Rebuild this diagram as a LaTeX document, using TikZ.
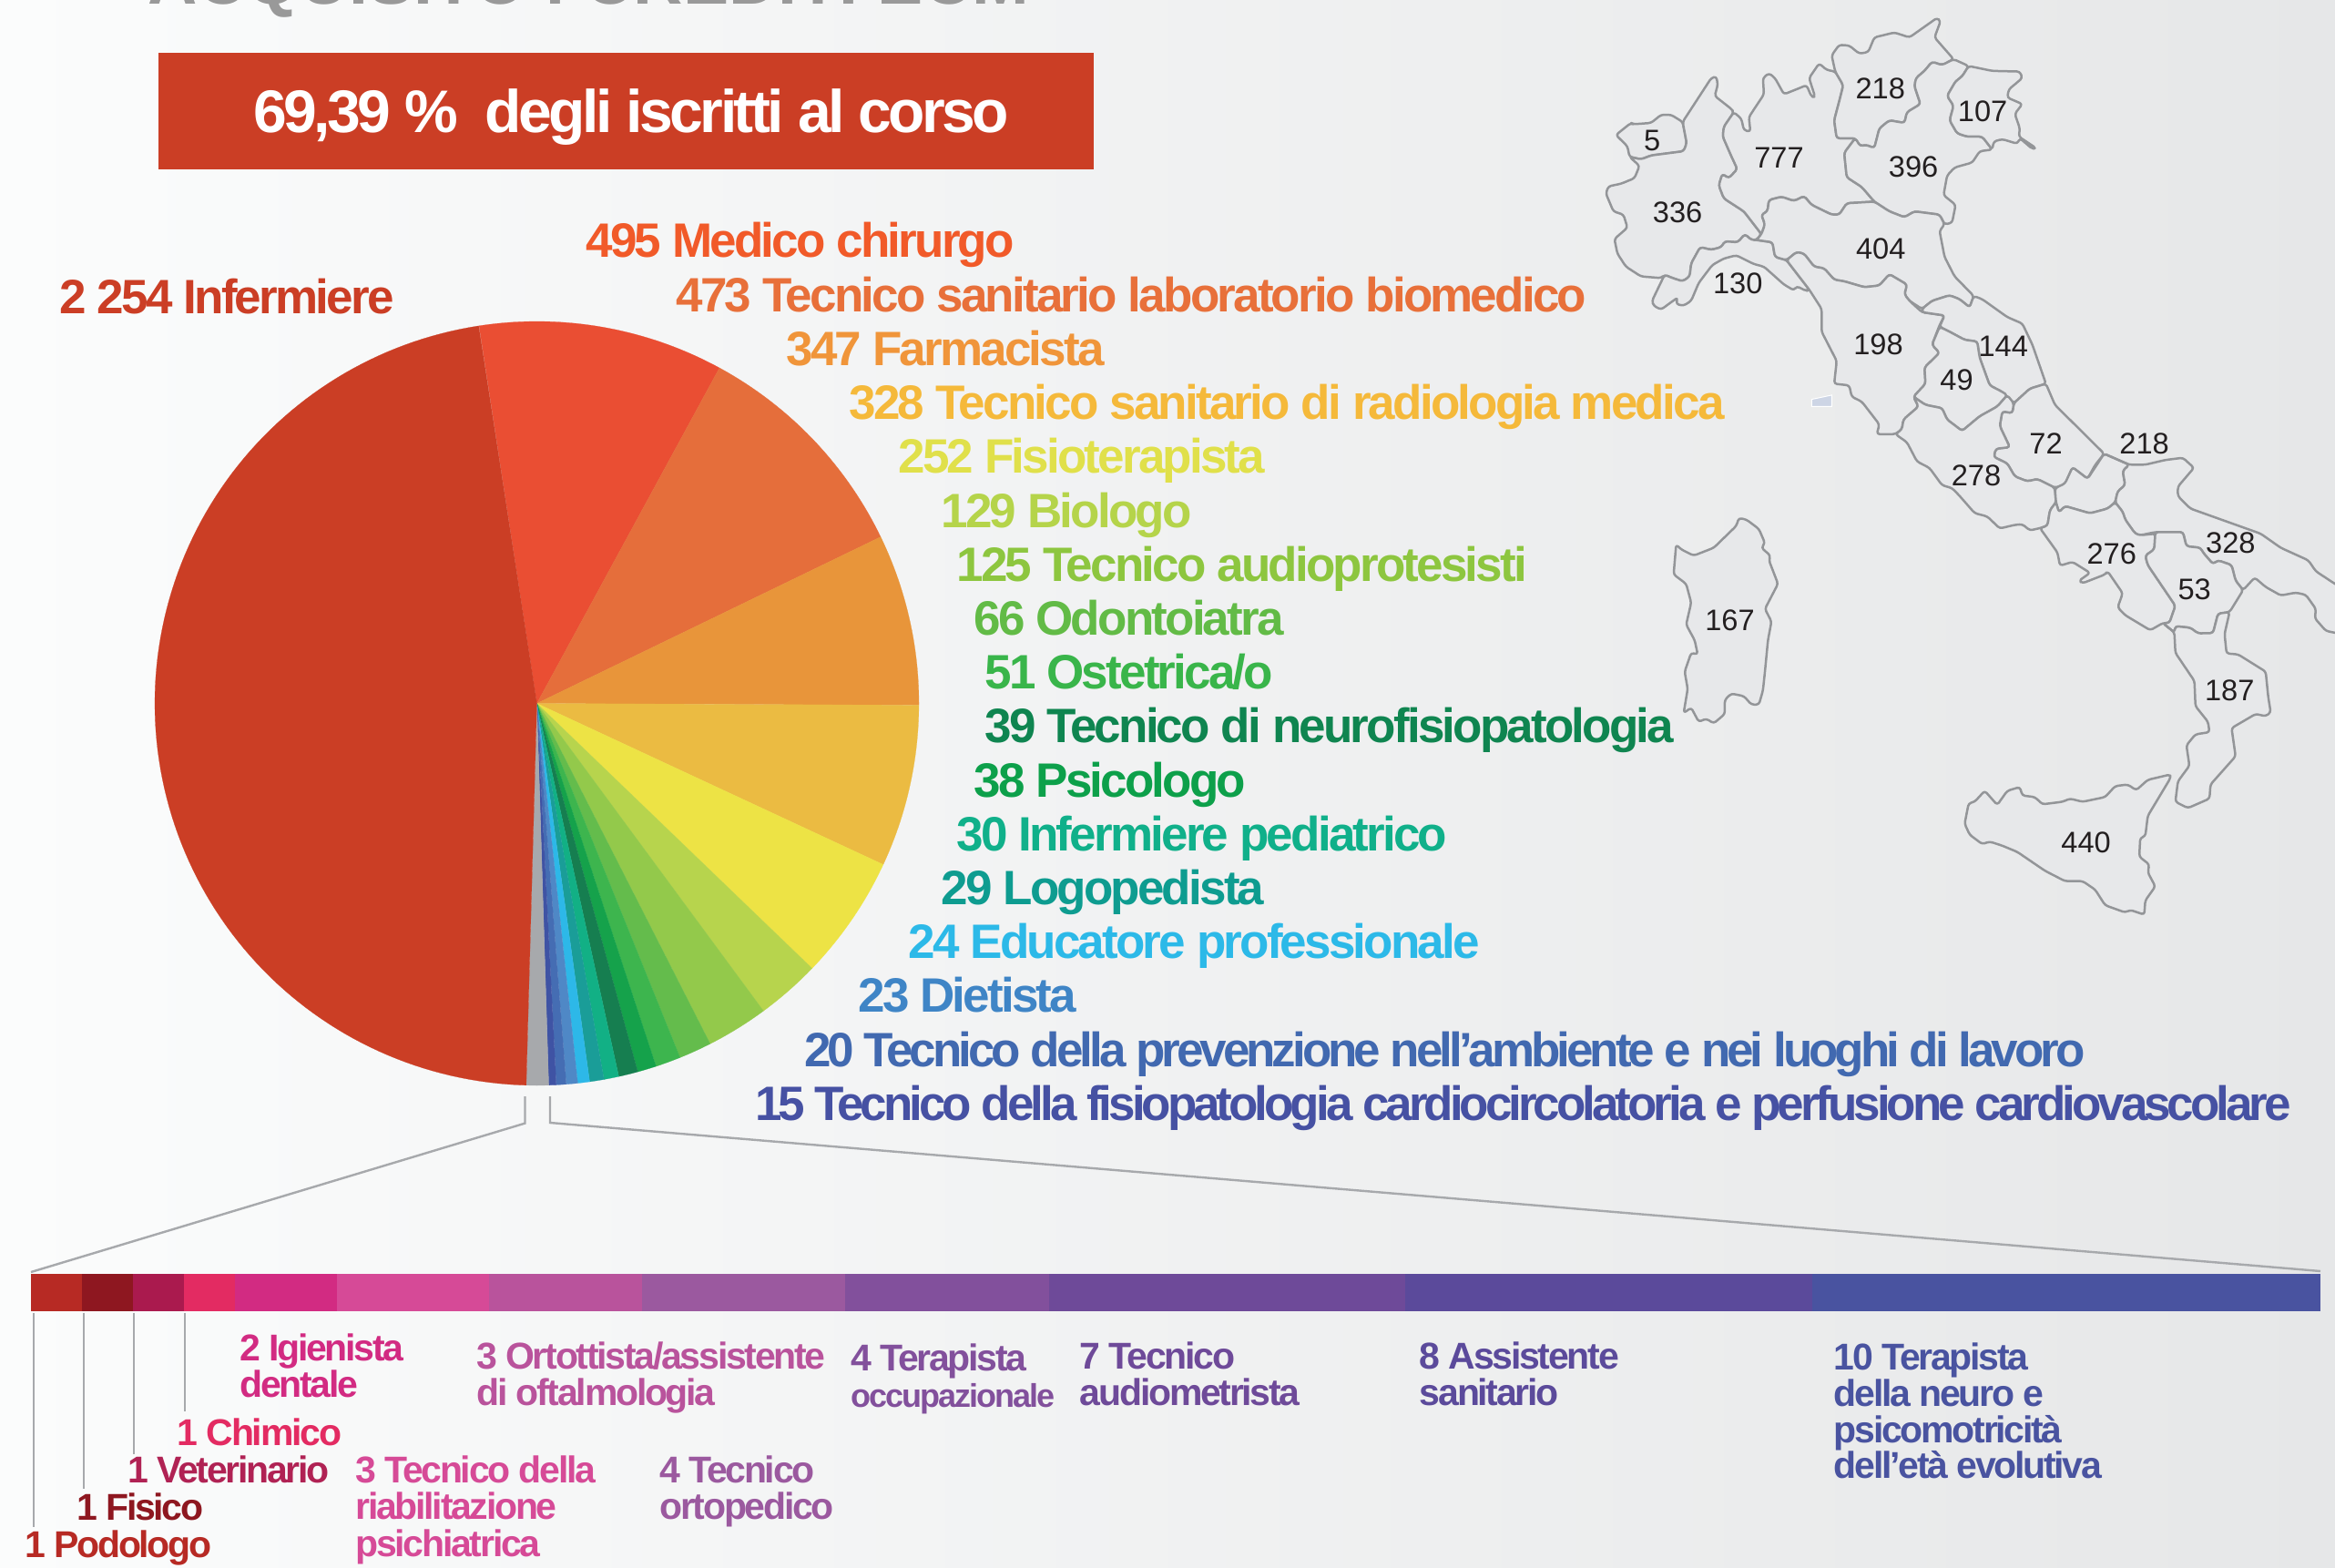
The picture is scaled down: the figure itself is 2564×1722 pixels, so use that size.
\documentclass[tikz,border=0pt]{standalone}
\usepackage{fontspec}
\setmainfont{Liberation Sans}
\newfontfamily\hb[LetterSpace=-5.3]{Liberation Sans Bold}
\newfontfamily\hbt[LetterSpace=-7.6]{Liberation Sans Bold}
\newfontfamily\hbs[LetterSpace=-5.5]{Liberation Sans Bold}
\definecolor{cA}{HTML}{CB3E25}
\definecolor{mapfill}{HTML}{E7E8EA}
\definecolor{mapline}{HTML}{939598}
\definecolor{leader}{HTML}{A7A9AC}
\definecolor{ink}{HTML}{231F20}
\tikzset{
 txt/.style={inner sep=0pt,anchor=base west,align=left},
 big/.style={txt,font=\hb\fontsize{26.5}{26.5}\selectfont},
 bigtight/.style={txt,font=\hbt\fontsize{26.5}{26.5}\selectfont},
 small/.style={txt,font=\hbs\fontsize{20.5}{20.5}\selectfont},
 num/.style={inner sep=0pt,text=ink,font=\fontsize{16.3}{16.3}\selectfont},
 region/.style={fill=mapfill,draw=mapline,line width=1.25pt,line join=round,rounded corners=1.5pt},
 leaderline/.style={draw=leader,line width=0.7pt},
 zoomline/.style={draw=leader,line width=1.2pt},
}
\begin{document}
\begin{tikzpicture}[x=0.5pt,y=-0.5pt]
\useasboundingbox (0,0) rectangle (2564,1722);
\clip (0,0) rectangle (2564,1722);
\shade[left color={rgb,255:red,251;green,252;blue,252}, right color={rgb,255:red,230;green,231;blue,232}] (0,0) rectangle (2564,1722);

% cropped title
\node[txt,text={rgb,255:red,153;green,153;blue,153},font=\fontspec{Liberation Sans Bold}\fontsize{37.6}{37.6}\selectfont] (title) at (162,5) {ACQUISITO I CREDITI ECM};

% banner
\fill[cA] (174,58) rectangle (1201,186);
\node[txt,text=white,font=\hb\fontsize{33}{33}\selectfont] (banner) at (278,146) {69,39 \%\ \ degli iscritti al corso};

% pie
\def\acc{-8.7}
\newcommand\Slice[2]{%
  \definecolor{tmpc}{HTML}{#2}%
  \pgfmathsetmacro\aend{\acc+#1/4783*360}%
  \fill[tmpc,draw=tmpc,line width=0.1pt] (589.5,772.5) -- plot[domain=\acc:\aend,samples=120] ({589.5+419.5*sin(\x)},{772.5-419.5*cos(\x)}) -- cycle;
  \global\let\acc\aend
}
\Slice{495}{EA4E33}
\Slice{473}{E56E3B}
\Slice{347}{E8953A}
\Slice{328}{EBBB42}
\Slice{252}{EDE345}
\Slice{129}{B7D44D}
\Slice{125}{93C94B}
\Slice{66}{64BC4C}
\Slice{51}{3DB54E}
\Slice{38}{15A24B}
\Slice{39}{167E50}
\Slice{30}{12B085}
\Slice{29}{1A9D98}
\Slice{24}{2DB8E8}
\Slice{23}{4F88C6}
\Slice{20}{456DB3}
\Slice{15}{3F53A4}
\Slice{45}{A7A9AC}
\Slice{2254}{CB3E25}

% pie labels
\node[big,text={cA}] (l0) at (65,345) {2 254 Infermiere};
\node[big,text={rgb,255:red,241;green,90;blue,41}] (l1) at (643,283) {495 Medico chirurgo};
\node[big,text={rgb,255:red,232;green,112;blue,58}] (l2) at (742,342.2) {473 Tecnico sanitario laboratorio biomedico};
\node[big,text={rgb,255:red,240;green,149;blue,58}] (l3) at (863,401.4) {347 Farmacista};
\node[big,text={rgb,255:red,245;green,185;blue,58}] (l4) at (932,460.6) {328 Tecnico sanitario di radiologia medica};
\node[big,text={rgb,255:red,224;green,224;blue,74}] (l5) at (986,519.8) {252 Fisioterapista};
\node[big,text={rgb,255:red,181;green,212;blue,74}] (l6) at (1033,579) {129 Biologo};
\node[big,text={rgb,255:red,141;green,198;blue,63}] (l7) at (1050,638.2) {125 Tecnico audioprotesisti};
\node[big,text={rgb,255:red,98;green,187;blue,70}] (l8) at (1069,697.4) {66 Odontoiatra};
\node[big,text={rgb,255:red,57;green,181;blue,74}] (l9) at (1081,756.6) {51 Ostetrica/o};
\node[big,text={rgb,255:red,15;green,133;blue,80}] (l10) at (1081,815.8) {39 Tecnico di neurofisiopatologia};
\node[big,text={rgb,255:red,13;green,160;blue,74}] (l11) at (1069,875) {38 Psicologo};
\node[big,text={rgb,255:red,16;green,176;blue,138}] (l12) at (1050,934.2) {30 Infermiere pediatrico};
\node[big,text={rgb,255:red,14;green,156;blue,144}] (l13) at (1033,993.4) {29 Logopedista};
\node[big,text={rgb,255:red,44;green,185;blue,232}] (l14) at (997,1052.6) {24 Educatore professionale};
\node[big,text={rgb,255:red,63;green,133;blue,198}] (l15) at (942,1111.8) {23 Dietista};
\node[bigtight,text={rgb,255:red,65;green,105;blue,176}] (l16) at (883,1171) {20 Tecnico della prevenzione nell’ambiente e nei luoghi di lavoro};
\node[bigtight,text={rgb,255:red,70;green,81;blue,163}] (l17) at (829,1230.2) {15 Tecnico della fisiopatologia cardiocircolatoria e perfusione cardiovascolare};

% bar
\newcommand\Seg[3]{\definecolor{tmpc}{HTML}{#3}\fill[tmpc] (#1,1398.5) rectangle (#2,1439.6);}
\Seg{34}{90.3}{B72A24}
\Seg{90}{146.3}{8E1720}
\Seg{146}{202.3}{AA1A4E}
\Seg{202}{258.3}{E32B62}
\Seg{258}{370.3}{D22B82}
\Seg{370}{537.3}{D64A97}
\Seg{537}{705.3}{B9539C}
\Seg{705}{928.3}{9B599F}
\Seg{928}{1152.3}{82509C}
\Seg{1152}{1543.3}{6E4A99}
\Seg{1543}{1989.8}{5B4A9B}
\Seg{1989.5}{2548}{4953A0}

% zoom lines
\coordinate (zl0) at (576.5,1204);
\coordinate (zl1) at (576.5,1233.6);
\coordinate (zl2) at (34,1397);
\coordinate (zr0) at (604,1204);
\coordinate (zr1) at (604,1233);
\coordinate (zr2) at (2548,1396);
\draw[zoomline] (zl0) -- (zl1) -- (zl2);
\draw[zoomline] (zr0) -- (zr1) -- (zr2);

% leaders
\coordinate (a0) at (37,1441.7); \coordinate (a1) at (37,1677);
\coordinate (b0) at (92,1441.7); \coordinate (b1) at (92,1634.5);
\coordinate (c0) at (147,1441.7); \coordinate (c1) at (147,1596.5);
\coordinate (d0) at (203,1441.7); \coordinate (d1) at (203,1550);
\draw[leaderline] (a0)--(a1);
\draw[leaderline] (b0)--(b1);
\draw[leaderline] (c0)--(c1);
\draw[leaderline] (d0)--(d1);

% small labels
\node[small,text={rgb,255:red,183;green,42;blue,36}] (s1) at (27,1710) {1 Podologo};
\node[small,text={rgb,255:red,142;green,23;blue,32}] (s2) at (84,1669) {1 Fisico};
\node[small,text={rgb,255:red,176;green,34;blue,84}] (s3) at (140,1628) {1 Veterinario};
\node[small,text={rgb,255:red,227;green,43;blue,98}] (s4) at (194.5,1587) {1 Chimico};
\node[small,text={rgb,255:red,210;green,43;blue,130}] (s5) at (263,1494) {2 Igienista};
\node[small,text={rgb,255:red,210;green,43;blue,130}] (s5b) at (263,1534) {dentale};
\node[small,text={rgb,255:red,214;green,74;blue,151}] (s6) at (390,1628) {3 Tecnico della};
\node[small,text={rgb,255:red,214;green,74;blue,151}] (s6b) at (390,1668.4) {riabilitazione};
\node[small,text={rgb,255:red,214;green,74;blue,151}] (s6c) at (390,1709) {psichiatrica};
\node[small,text={rgb,255:red,185;green,83;blue,156}] (s7) at (523,1503) {3 Ortottista/assistente};
\node[small,text={rgb,255:red,185;green,83;blue,156}] (s7b) at (523,1543.6) {di oftalmologia};
\node[small,text={rgb,255:red,155;green,89;blue,159}] (s8) at (724,1628) {4 Tecnico};
\node[small,text={rgb,255:red,155;green,89;blue,159}] (s8b) at (724,1668) {ortopedico};
\node[small,text={rgb,255:red,130;green,80;blue,156}] (s9) at (934,1505) {4 Terapista};
\node[small,text={rgb,255:red,130;green,80;blue,156},font=\hbs\fontsize{18}{18}\selectfont] (s9b) at (934,1545) {occupazionale};
\node[small,text={rgb,255:red,110;green,74;blue,153}] (s10) at (1185.5,1503) {7 Tecnico};
\node[small,text={rgb,255:red,110;green,74;blue,153}] (s10b) at (1185.5,1543.6) {audiometrista};
\node[small,text={rgb,255:red,91;green,74;blue,155}] (s11) at (1558.5,1503) {8 Assistente};
\node[small,text={rgb,255:red,91;green,74;blue,155}] (s11b) at (1558.5,1543.6) {sanitario};
\node[small,text={rgb,255:red,73;green,83;blue,160}] (s12) at (2013.4,1504) {10 Terapista};
\node[small,text={rgb,255:red,73;green,83;blue,160}] (s12b) at (2013.4,1544) {della neuro e};
\node[small,text={rgb,255:red,73;green,83;blue,160}] (s12c) at (2013.4,1584) {psicomotricità};
\node[small,text={rgb,255:red,73;green,83;blue,160}] (s12d) at (2013.4,1623.5) {dell’età evolutiva};

% map north
\begin{scope}[shift={(1700,0)}]
\begin{scope}[x=0.27548pt,y=-0.17857pt]
\draw[region] (135,415)--(165,378)--(170,382)--(205,378)--(225,353)--(245,353)--(268,375)--(276,440)--(270,465)--(245,470)--(205,478)--(185,490)--(162,482)--(158,450)--cycle;
\draw[region] (268,375)--(325,240)--(335,235)--(338,260)--(332,295)--(365,335)--(370,345)--(350,390)--(348,420)--(365,480)--(377,520)--(360,548)--(347,535)--(340,570)--(350,610)--(390,650)--(425,720)--(415,738)--(405,738)--(392,720)--(378,745)--(352,742)--(345,760)--(325,768)--(303,760)--(285,810)--(282,850)--(268,865)--(248,855)--(232,845)--(225,855)--(185,850)--(155,820)--(138,780)--(132,735)--(158,700)--(150,660)--(130,650)--(115,595)--(120,573)--(145,565)--(172,548)--(182,510)--(162,482)--(185,490)--(205,478)--(245,470)--(270,465)--(276,440)--cycle;
\draw[region] (207,925)--(232,845)--(248,855)--(268,865)--(282,850)--(285,810)--(303,760)--(325,768)--(345,760)--(352,742)--(378,745)--(392,720)--(405,738)--(415,738)--(447,745)--(452,790)--(475,800)--(520,890)--(515,895)--(495,880)--(490,893)--(470,875)--(430,820)--(410,812)--(375,785)--(350,795)--(327,815)--(300,870)--(285,925)--(270,940)--(255,935)--(258,915)--(240,935)--(225,952)--(210,940)--cycle;
\draw[region] (370,345)--(385,365)--(390,400)--(403,405)--(400,360)--(430,290)--(428,240)--(440,225)--(452,240)--(470,290)--(515,262)--(525,298)--(532,298)--(520,240)--(540,195)--(555,215)--(572,220)--(588,262)--(582,300)--(570,370)--(575,425)--(612,425)--(590,470)--(595,545)--(625,575)--(650,620)--(595,625)--(580,660)--(565,660)--(525,630)--(510,603)--(490,618)--(465,605)--(440,615)--(437,650)--(425,660)--(432,690)--(425,720)--(390,650)--(350,610)--(340,570)--(347,535)--(360,548)--(377,520)--(365,480)--(348,420)--(350,390)--cycle;
\draw[region] (572,220)--(565,170)--(580,138)--(600,140)--(620,165)--(638,160)--(650,115)--(690,100)--(720,115)--(775,55)--(782,65)--(770,115)--(808,182)--(785,200)--(765,190)--(750,218)--(733,240)--(730,265)--(742,320)--(715,345)--(710,378)--(680,370)--(660,395)--(650,455)--(632,445)--(622,450)--(612,425)--(575,425)--(570,370)--(582,300)--(588,262)--cycle;
\draw[region] (808,182)--(838,203)--(825,235)--(812,250)--(795,295)--(808,325)--(800,370)--(815,410)--(835,420)--(865,420)--(885,460)--(860,465)--(845,500)--(810,515)--(795,540)--(788,600)--(812,630)--(805,685)--(790,690)--(780,660)--(730,650)--(710,668)--(680,650)--(650,620)--(625,575)--(595,545)--(590,470)--(612,425)--(622,450)--(632,445)--(650,455)--(660,395)--(680,370)--(710,378)--(715,345)--(742,320)--(730,265)--(733,240)--(750,218)--(765,190)--(785,200)--cycle;
\draw[region] (838,203)--(885,218)--(940,220)--(945,240)--(918,275)--(915,300)--(945,320)--(930,350)--(940,395)--(938,420)--(972,455)--(965,458)--(940,425)--(935,442)--(905,428)--(888,435)--(885,460)--(865,420)--(835,420)--(815,410)--(800,370)--(808,325)--(795,295)--(812,250)--(825,235)--cycle;
\draw[region] (425,720)--(432,690)--(425,660)--(437,650)--(440,615)--(465,605)--(490,618)--(510,603)--(525,630)--(565,660)--(580,660)--(595,625)--(650,620)--(680,650)--(710,668)--(730,650)--(780,660)--(790,690)--(780,710)--(790,790)--(810,850)--(848,910)--(840,945)--(820,920)--(800,908)--(765,925)--(745,950)--(720,925)--(710,905)--(715,875)--(680,843)--(660,878)--(630,883)--(590,865)--(570,860)--(550,825)--(530,820)--(510,780)--(495,775)--(475,800)--(452,790)--(447,745)--(415,738)--cycle;
\draw[region] (475,800)--(495,775)--(510,780)--(530,820)--(550,825)--(570,860)--(590,865)--(630,883)--(660,878)--(680,843)--(715,875)--(710,905)--(720,925)--(745,960)--(790,970)--(780,1000)--(765,1060)--(780,1085)--(750,1130)--(752,1180)--(728,1220)--(738,1250)--(708,1290)--(705,1320)--(692,1335)--(655,1335)--(660,1305)--(625,1235)--(605,1220)--(600,1185)--(570,1180)--(575,1110)--(545,1020)--(545,950)--(520,890)--cycle;
\draw[region] (745,950)--(765,925)--(800,908)--(820,920)--(840,945)--(848,910)--(865,920)--(915,975)--(945,995)--(965,1060)--(992,1180)--(960,1195)--(928,1240)--(905,1205)--(880,1185)--(860,1100)--(855,1050)--(830,1045)--(800,1020)--(780,1005)--(790,970)--(745,960)--cycle;
\draw[region] (780,1005)--(800,1020)--(830,1045)--(855,1050)--(860,1100)--(880,1185)--(905,1205)--(915,1215)--(895,1250)--(860,1280)--(825,1325)--(795,1290)--(785,1255)--(752,1245)--(728,1220)--(752,1180)--(750,1130)--(780,1085)--(765,1060)--cycle;
\draw[region] (992,1180)--(1010,1245)--(1108,1395)--(1090,1430)--(1075,1472)--(1045,1437)--(1030,1490)--(1010,1500)--(975,1473)--(955,1480)--(930,1465)--(915,1425)--(888,1405)--(892,1380)--(920,1375)--(900,1310)--(905,1265)--(925,1270)--(928,1240)--(960,1195)--cycle;
\draw[region] (692,1335)--(705,1320)--(708,1290)--(738,1250)--(728,1220)--(752,1245)--(785,1255)--(795,1290)--(825,1325)--(860,1280)--(895,1250)--(915,1215)--(928,1240)--(925,1270)--(905,1265)--(900,1310)--(920,1375)--(892,1380)--(888,1405)--(915,1425)--(930,1465)--(955,1480)--(975,1473)--(1010,1500)--(1010,1506)--(1012,1545)--(1000,1569)--(995,1617)--(980,1624)--(960,1631)--(945,1612)--(930,1614)--(900,1625)--(875,1588)--(850,1578)--(820,1525)--(805,1501)--(785,1492)--(760,1439)--(735,1419)--(715,1360)--cycle;
\draw[fill={rgb,255:red,205;green,213;blue,229},draw=white,line width=0.5pt] (525,1228)--(565,1215)--(565,1250)--(525,1250)--cycle;
\node[num] (m1) at (662,272) {218};
\node[num] (m2) at (866,342) {107};
\node[num] (m3) at (207,432) {5};
\node[num] (m4) at (460,485) {777};
\node[num] (m5) at (728,512) {396};
\node[num] (m6) at (258,652) {336};
\node[num] (m7) at (663,765) {404};
\node[num] (m8) at (378,872) {130};
\node[num] (m9) at (658,1058) {198};
\node[num] (m10) at (907,1065) {144};
\node[num] (m11) at (814,1167) {49};
\node[num] (m12) at (992,1363) {72};
\node[num] (m13) at (1188,1363) {218};
\node[num] (m14) at (853,1462) {278};
\end{scope}
\end{scope}

% map south
\begin{scope}[shift={(1700,500)}]
\begin{scope}[x=0.27548pt,y=-0.17218pt]
\draw[region] (1108,-5)--(1075,75)--(1045,38)--(1030,90)--(1010,105)--(1012,150)--(1018,182)--(1030,162)--(1080,185)--(1115,170)--(1130,150)--(1135,115)--(1150,95)--(1145,50)--(1158,30)--cycle;
\draw[region] (1108,-5)--(1158,30)--(1190,30)--(1230,15)--(1265,8)--(1287,40)--(1255,100)--(1255,130)--(1280,170)--(1350,210)--(1420,250)--(1460,295)--(1515,335)--(1530,370)--(1568,410)--(1580,420)--(1580,570)--(1550,560)--(1528,520)--(1530,490)--(1510,445)--(1490,438)--(1460,447)--(1430,420)--(1408,390)--(1385,430)--(1370,400)--(1362,350)--(1335,335)--(1325,347)--(1305,310)--(1300,295)--(1272,290)--(1265,245)--(1210,245)--(1180,255)--(1170,250)--(1150,205)--(1145,180)--(1130,150)--(1135,115)--(1150,95)--(1145,50)--(1158,30)--cycle;
\draw[region] (980,232)--(995,225)--(1000,175)--(1012,150)--(1018,182)--(1030,162)--(1080,185)--(1115,170)--(1130,150)--(1145,180)--(1150,205)--(1170,250)--(1180,255)--(1210,250)--(1208,300)--(1190,320)--(1195,350)--(1250,480)--(1238,535)--(1225,535)--(1200,558)--(1150,510)--(1135,485)--(1145,440)--(1115,370)--(1110,380)--(1065,408)--(1058,400)--(1080,375)--(1045,340)--(1020,352)--(1015,310)--cycle;
\draw[region] (1210,245)--(1265,245)--(1272,290)--(1300,295)--(1305,310)--(1325,347)--(1335,335)--(1362,350)--(1370,400)--(1385,430)--(1358,500)--(1335,505)--(1325,567)--(1295,568)--(1280,550)--(1250,545)--(1248,565)--(1225,535)--(1238,535)--(1250,480)--(1195,350)--(1190,320)--(1208,300)--cycle;
\draw[region] (1225,535)--(1248,565)--(1250,545)--(1280,550)--(1295,568)--(1325,567)--(1335,505)--(1358,500)--(1348,570)--(1352,632)--(1375,635)--(1430,690)--(1435,770)--(1440,820)--(1430,832)--(1410,825)--(1362,870)--(1370,960)--(1320,1050)--(1318,1095)--(1275,1125)--(1250,1105)--(1255,1040)--(1278,990)--(1272,925)--(1290,890)--(1318,883)--(1315,850)--(1290,800)--(1288,720)--(1250,630)--(1248,565)--cycle;
\draw[region] (830,1175)--(838,1110)--(850,1105)--(870,1070)--(895,1115)--(915,1070)--(940,1058)--(945,1085)--(970,1090)--(985,1113)--(1025,1105)--(1040,1095)--(1065,1105)--(1110,1090)--(1130,1055)--(1155,1050)--(1172,1068)--(1195,1035)--(1240,1018)--(1240,1030)--(1195,1150)--(1190,1215)--(1180,1220)--(1178,1280)--(1198,1305)--(1195,1330)--(1210,1375)--(1190,1420)--(1188,1465)--(1160,1450)--(1150,1458)--(1110,1435)--(1090,1385)--(1065,1358)--(1030,1358)--(990,1325)--(935,1265)--(905,1245)--(880,1232)--(865,1240)--(840,1210)--cycle;
\draw[region] (380,200)--(395,205)--(420,235)--(432,280)--(425,295)--(443,320)--(440,335)--(458,410)--(432,490)--(445,530)--(438,590)--(432,690)--(428,750)--(420,795)--(405,795)--(390,768)--(365,760)--(352,780)--(352,825)--(330,855)--(315,840)--(300,850)--(285,805)--(270,822)--(278,745)--(272,690)--(285,630)--(298,635)--(292,590)--(275,540)--(285,470)--(275,410)--(250,380)--(255,285)--(265,300)--(290,320)--(330,295)--(375,225)--cycle;
\node[num] (m15) at (1123,315) {276};
\node[num] (m16) at (1360,280) {328};
\node[num] (m17) at (1288,428) {53};
\node[num] (m18) at (362,526) {167};
\node[num] (m19) at (1358,750) {187};
\node[num] (m20) at (1072,1235) {440};
\end{scope}
\end{scope}
\end{tikzpicture}
\end{document}
